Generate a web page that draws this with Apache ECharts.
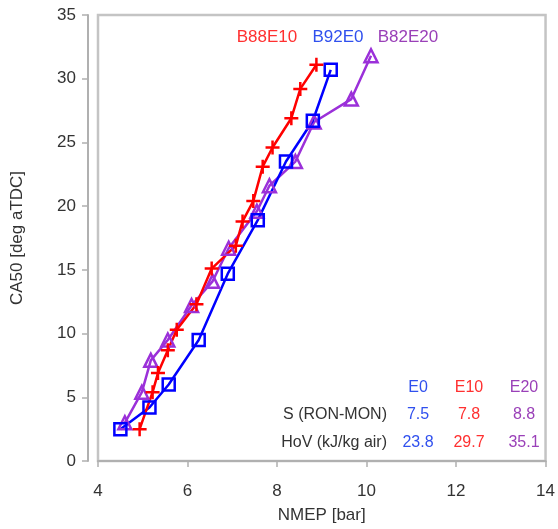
<!DOCTYPE html>
<html>
<head>
<meta charset="utf-8">
<script src="https://cdn.jsdelivr.net/npm/echarts@6/dist/echarts.min.js"></script>
<style>html,body{margin:0;padding:0;background:#fff}#c{width:558px;height:529px}</style>
</head>
<body>
<div id="c"></div>
<script>
// Data
var seriesNames = ['B88E10', 'B92E0', 'B82E20'];
var redE10 = [[4.93,2.5],[5.22,5.4],[5.34,6.9],[5.56,8.7],[5.76,10.3],[6.2,12.3],[6.54,15.1],[7.08,16.9],[7.23,18.8],[7.47,20.4],[7.68,23.1],[7.9,24.6],[8.32,26.9],[8.52,29.2],[8.88,31.1]];
var blueE0 = [[4.5,2.5],[5.15,4.2],[5.58,6.0],[6.25,9.5],[6.9,14.7],[7.57,18.9],[8.2,23.5],[8.8,26.7],[9.2,30.7]];
var purpleE20 = [[4.6,3.0],[4.98,5.4],[5.18,7.9],[5.56,9.5],[6.09,12.2],[6.56,14.1],[6.92,16.7],[7.55,19.6],[7.83,21.6],[8.41,23.5],[8.83,26.6],[9.66,28.4],[10.1,31.8]];
var tableHeaders = ['E0', 'E10', 'E20'];
var tableRowLabels = ['S (RON-MON)', 'HoV (kJ/kg air)'];
var tableS = ['7.5', '7.8', '8.8'];
var tableHoV = ['23.8', '29.7', '35.1'];
var xTicks = [4, 6, 8, 10, 12, 14];
var yTicks = [0, 5, 10, 15, 20, 25, 30, 35];

var lineColors = ['#ff0000', '#0000ff', '#9b30d9'];
var textColors = ['#ff3030', '#3050ee', '#9a40b8'];
var font = 'Liberation Sans, Arial, sans-serif';

var chart = echarts.init(document.getElementById('c'));

function mk(name, data, color, symbol, size) {
  return {
    name: name, type: 'line', data: data,
    symbol: symbol, symbolSize: size,
    lineStyle: {color: color, width: 2.5},
    itemStyle: {color: 'rgba(0,0,0,0)', borderColor: color, borderWidth: 2.5},
    emphasis: {disabled: true},
    z: 3
  };
}

var colX = [418, 469, 524];
var graphics = [];
var nameX = [267, 338, 408];
for (var i = 0; i < 3; i++) {
  graphics.push({type: 'text', x: nameX[i], y: 37, style: {text: seriesNames[i], fill: textColors[i], font: '17px ' + font, align: 'center', verticalAlign: 'middle'}});
}
var colOrder = [1, 0, 2];
for (var j = 0; j < 3; j++) {
  var col = textColors[colOrder[j]];
  graphics.push({type: 'text', x: colX[j], y: 388, style: {text: tableHeaders[j], fill: col, font: '16px ' + font, align: 'center', verticalAlign: 'middle'}});
  graphics.push({type: 'text', x: colX[j], y: 415, style: {text: tableS[j], fill: col, font: '16px ' + font, align: 'center', verticalAlign: 'middle'}});
  graphics.push({type: 'text', x: colX[j], y: 443, style: {text: tableHoV[j], fill: col, font: '16px ' + font, align: 'center', verticalAlign: 'middle'}});
}
graphics.push({type: 'text', x: 387, y: 415, style: {text: tableRowLabels[0], fill: '#333', font: '16px ' + font, align: 'right', verticalAlign: 'middle'}});
graphics.push({type: 'text', x: 387, y: 443, style: {text: tableRowLabels[1], fill: '#333', font: '16px ' + font, align: 'right', verticalAlign: 'middle'}});

chart.setOption({
  animation: false,
  backgroundColor: '#fff',
  grid: {left: 98, right: 11, top: 15, bottom: 65, show: true, borderColor: '#c4c4c4', borderWidth: 2.5, backgroundColor: '#fff'},
  xAxis: {
    type: 'value', min: 4, max: 14, interval: 2, offset: 8,
    name: 'NMEP [bar]', nameLocation: 'middle', nameGap: 38,
    nameTextStyle: {fontFamily: font, fontSize: 17, color: '#333'},
    axisLine: {show: true, lineStyle: {color: '#b0b0b0', width: 2}},
    axisTick: {show: true, length: 6, lineStyle: {color: '#b0b0b0', width: 1.5}},
    axisLabel: {fontFamily: font, fontSize: 17, color: '#333', margin: 14},
    splitLine: {show: false}
  },
  yAxis: {
    type: 'value', min: 0, max: 35, interval: 5, offset: 10,
    name: 'CA50 [deg aTDC]', nameLocation: 'middle', nameGap: 62,
    nameTextStyle: {fontFamily: font, fontSize: 17, color: '#333'},
    axisLine: {show: true, lineStyle: {color: '#b0b0b0', width: 2}},
    axisTick: {show: true, length: 6, lineStyle: {color: '#b0b0b0', width: 1.5}},
    axisLabel: {fontFamily: font, fontSize: 17, color: '#333', margin: 12},
    splitLine: {show: false}
  },
  series: [
    mk(seriesNames[2], purpleE20, lineColors[2], 'triangle', 13),
    mk(seriesNames[1], blueE0, lineColors[1], 'rect', 12),
    mk(seriesNames[0], redE10, lineColors[0], 'path://M0,6L12,6M6,0L6,12', 14)
  ],
  graphic: graphics
});
</script>
</body>
</html>
